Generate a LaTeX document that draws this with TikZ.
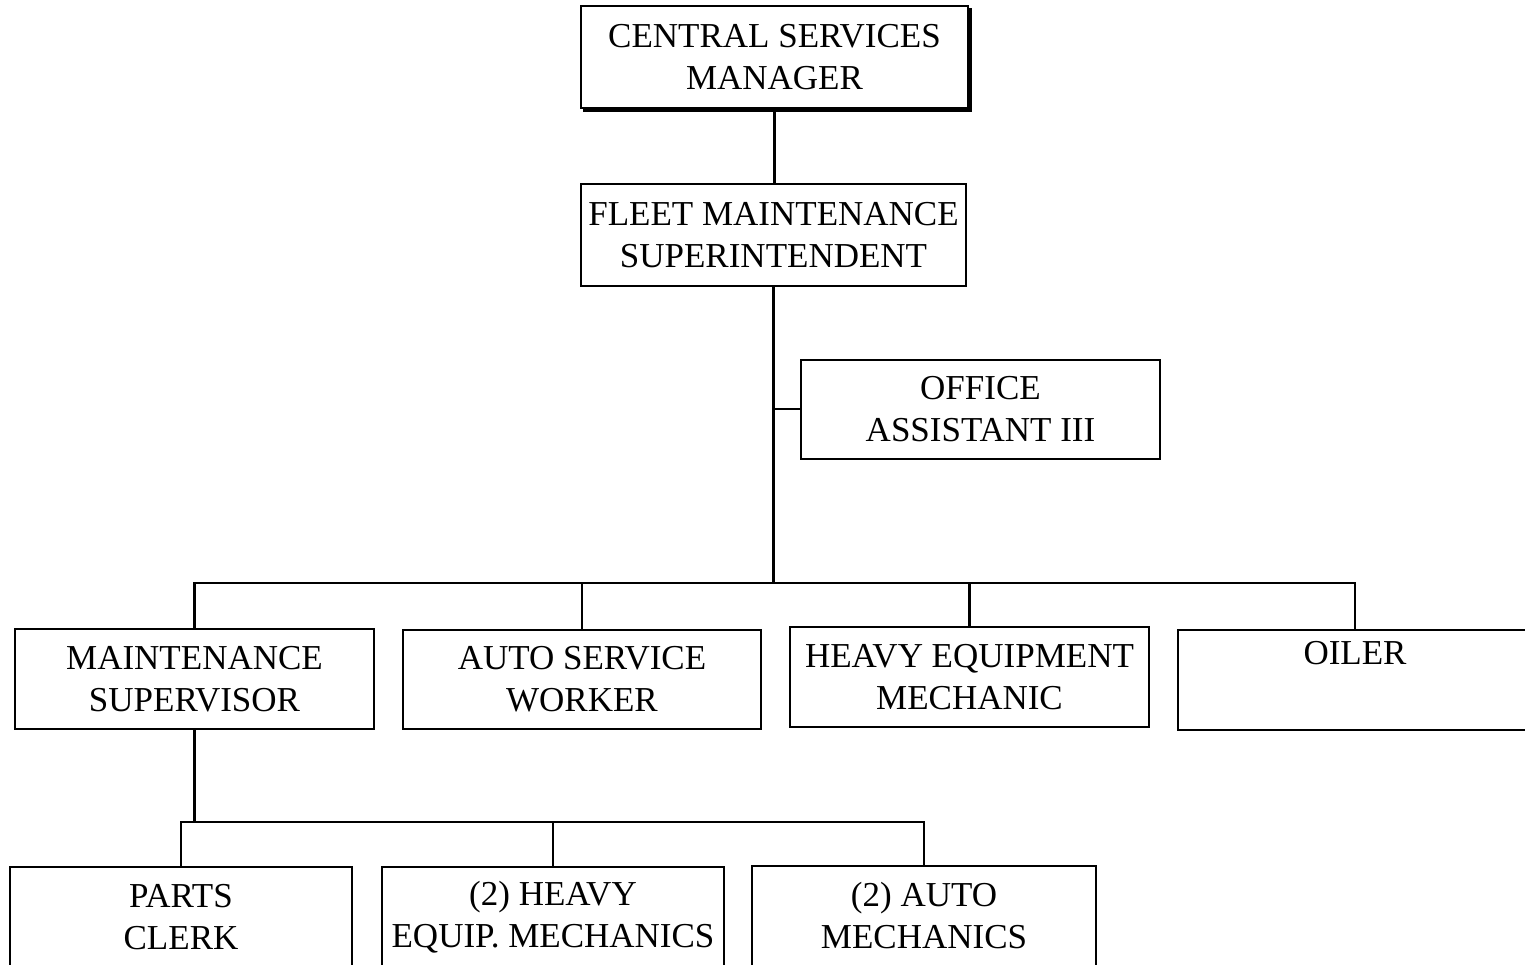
\documentclass[tikz,border=0pt]{standalone}
\usepackage{fontspec}
\setmainfont{Liberation Serif}
\usetikzlibrary{calc}
\begin{document}
\begin{tikzpicture}[x=1pt,y=-1pt,
  box/.style={draw, line width=2pt, rectangle, inner sep=0pt, align=center,
    font=\fontsize{35}{42}\selectfont},
  conn/.style={line width=2.2pt}]
\useasboundingbox (0,0) rectangle (1525,964);
\clip (0,0) rectangle (1525,964);
\fill[white] (0,0) rectangle (1525,964);
% top level
\node[box, minimum width=387, minimum height=102] (csm) at (774.5,57) {CENTRAL SERVICES\\MANAGER};
\draw[line width=3pt] ($(csm.north east)+(1.5,3)$) -- ($(csm.south east)+(1.5,1.5)$) -- ($(csm.south west)+(3,1.5)$);
\node[box, minimum width=385, minimum height=102] (fms) at (773.5,235) {FLEET MAINTENANCE\\SUPERINTENDENT};
\node[box, minimum width=359, minimum height=99] (oa) at (980.5,409) {OFFICE\\ASSISTANT III};
% middle level
\node[box, minimum width=359, minimum height=100] (ms) at (194.5,679) {MAINTENANCE\\SUPERVISOR};
\node[box, minimum width=358, minimum height=99] (asw) at (582,679) {AUTO SERVICE\\WORKER};
\node[box, minimum width=359, minimum height=100] (hem) at (969.5,677) {HEAVY EQUIPMENT\\MECHANIC};
\node[box, minimum width=354, minimum height=100] (oiler) at (1355,680) {OILER\\ \strut};
% bottom level
\node[box, minimum width=342, minimum height=100] (pc) at (181,917) {PARTS\\CLERK};
\node[box, minimum width=342, minimum height=100] (hm2) at (553,917) {(2) HEAVY\\EQUIP. MECHANICS};
\node[box, minimum width=344, minimum height=100] (am) at (924,916) {(2) AUTO\\MECHANICS};
% connectors
\coordinate (b1) at (773.5,583);
\coordinate (b2) at (193,822);
\draw[conn] (csm.south) -- (csm.south |- fms.north);
\draw[conn] (fms.south) -- (b1);
\draw[conn] (oa.west) -- (oa.west -| b1);
\draw[conn] (ms.north) |- (b1) -| (oiler.north);
\draw[conn] (asw.north) -- (asw.north |- b1);
\draw[conn] (hem.north) -- (hem.north |- b1);
\draw[conn] (ms.south) -- (ms.south |- b2);
\draw[conn] (pc.north) |- (b2) -| (am.north);
\draw[conn] (hm2.north) -- (hm2.north |- b2);
\end{tikzpicture}
\end{document}
